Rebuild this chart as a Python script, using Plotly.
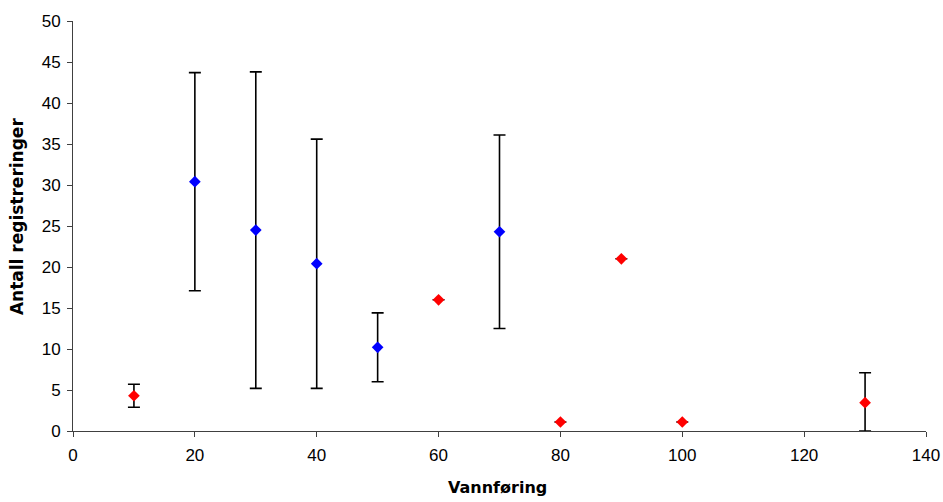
import plotly.graph_objects as go

blue_x = [20, 30, 40, 50, 70]
blue_y = [30.4, 24.5, 20.4, 10.2, 24.3]
blue_err = [13.3, 19.3, 15.2, 4.2, 11.8]

red_x = [10, 60, 80, 90, 100, 130]
red_y = [4.3, 16.0, 1.1, 21.0, 1.1, 3.45]
red_err_plus = [1.4, None, None, None, None, 3.65]
red_err_minus = [1.4, None, None, None, None, 3.45]

x_ticks = [0, 20, 40, 60, 80, 100, 120, 140]
y_ticks = [0, 5, 10, 15, 20, 25, 30, 35, 40, 45, 50]

x_title = "Vannføring"
y_title = "Antall registreringer"

err_style = dict(type="data", color="black", thickness=1.6, width=6, visible=True)

fig = go.Figure()
fig.add_trace(go.Scatter(
    x=blue_x, y=blue_y, mode="markers",
    marker=dict(symbol="diamond", color="#0000FF", size=9),
    error_y=dict(array=blue_err, **err_style),
    showlegend=False, cliponaxis=False,
))
fig.add_trace(go.Scatter(
    x=red_x, y=red_y, mode="markers",
    marker=dict(symbol="diamond", color="#FF0000", size=9),
    error_y=dict(array=red_err_plus, arrayminus=red_err_minus, symmetric=False, **err_style),
    showlegend=False, cliponaxis=False,
))

tick_font = dict(family="Liberation Sans, Arial, sans-serif", size=17, color="black")
title_font = dict(family="DejaVu Sans, sans-serif", size=16, color="black")

fig.update_layout(
    width=943, height=502,
    margin=dict(l=73, r=17, t=21, b=71),
    paper_bgcolor="white", plot_bgcolor="white",
    font=tick_font,
    xaxis=dict(
        range=[0, 140], tickvals=x_ticks, showgrid=False, zeroline=False,
        showline=True, linecolor="#404040", linewidth=1,
        ticks="outside", ticklen=5, tickcolor="#404040",
        tickfont=tick_font, automargin=False, ticklabelstandoff=4,
    ),
    yaxis=dict(
        range=[0, 50], tickvals=y_ticks, showgrid=False, zeroline=False,
        showline=True, linecolor="#404040", linewidth=1,
        ticks="outside", ticklen=5, tickcolor="#404040",
        tickfont=tick_font, automargin=False, ticklabelstandoff=3,
    ),
    annotations=[
        dict(text="<b>" + x_title + "</b>", xref="paper", yref="paper",
             x=0.4977, y=-0.138, xanchor="center", yanchor="middle",
             showarrow=False, font=title_font, borderpad=0),
        dict(text="<b>" + y_title + "</b>", xref="paper", yref="paper",
             x=-0.0657, y=0.524, xanchor="center", yanchor="middle",
             textangle=-90, showarrow=False, font=dict(title_font, size=17)),
    ],
)

fig.write_html("out.html")
